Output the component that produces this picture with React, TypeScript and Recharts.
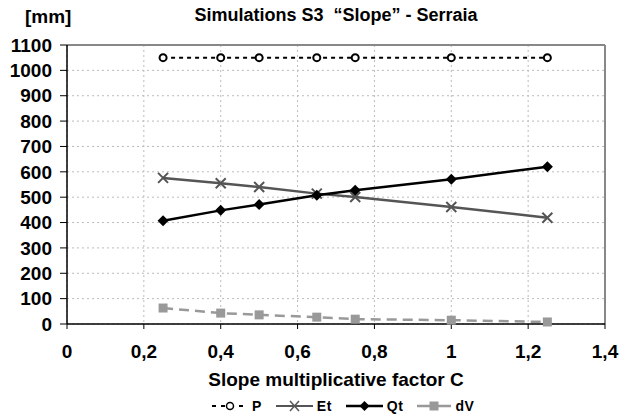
import React from 'react';
import { LineChart, Line, XAxis, YAxis, CartesianGrid, ReferenceLine } from 'recharts';

const slopeFactors = [0.25, 0.4, 0.5, 0.65, 0.75, 1, 1.25];
const pValues = [1050, 1050, 1050, 1050, 1050, 1050, 1050];
const etValues = [576, 555, 540, 514, 501, 461, 419];
const qtValues = [407, 448, 471, 508, 527, 571, 620];
const dvValues = [63, 43, 36, 27, 19, 15, 8];

const xTicks = [0, 0.2, 0.4, 0.6, 0.8, 1, 1.2, 1.4];
const yTicks = [0, 100, 200, 300, 400, 500, 600, 700, 800, 900, 1000, 1100];

const data = slopeFactors.map((c, i) => ({
    c,
    P: pValues[i],
    Et: etValues[i],
    Qt: qtValues[i],
    dV: dvValues[i],
}));

const FONT = '"Liberation Sans", Arial, sans-serif';

const circleDot = (props: any) => (
    <circle key={`p-${props.index}`} cx={props.cx} cy={props.cy} r={3.5} fill="#fff" stroke="#000" strokeWidth={2} />
);

const crossDot = (props: any) => {
    const { cx, cy, index } = props;
    const s = 5;
    return (
        <path
            key={`et-${index}`}
            d={`M${cx - s},${cy - s}L${cx + s},${cy + s}M${cx - s},${cy + s}L${cx + s},${cy - s}`}
            stroke="#555"
            strokeWidth={2}
            fill="none"
        />
    );
};

const diamondDot = (props: any) => {
    const { cx, cy, index } = props;
    const s = 5.5;
    return <path key={`qt-${index}`} d={`M${cx},${cy - s}L${cx + s},${cy}L${cx},${cy + s}L${cx - s},${cy}Z`} fill="#000" />;
};

const squareDot = (props: any) => {
    const { cx, cy, index } = props;
    return <rect key={`dv-${index}`} x={cx - 4.5} y={cy - 4.5} width={9} height={9} fill="#999" />;
};

const LegendItem = ({ children, label, width }: { children: React.ReactNode; label: string; width: number }) => (
    <div style={{ display: 'flex', alignItems: 'center', marginRight: 14 }}>
        <svg width={width} height={14} style={{ marginRight: 4 }}>{children}</svg>
        <span>{label}</span>
    </div>
);

export default function App() {
    return (
        <div style={{ position: 'relative', width: 625, height: 415, background: '#fff', fontFamily: FONT, fontWeight: 700, color: '#000' }}>
            <style>{'body{margin:0}'}</style>
            <div style={{ position: 'absolute', left: 25, top: 6, fontSize: 19 }}>[mm]</div>
            <div style={{ position: 'absolute', left: 67, width: 538, top: 5, fontSize: 18, textAlign: 'center', whiteSpace: 'pre' }}>
                {'Simulations S3  \u201cSlope\u201d - Serraia'}
            </div>
            <LineChart width={625} height={415} data={data} margin={{ top: 45, right: 20, left: 0, bottom: 51 }}>
                <CartesianGrid stroke="#bbb" strokeDasharray="2 3" />
                <XAxis
                    type="number"
                    dataKey="c"
                    domain={[0, 1.4]}
                    ticks={xTicks}
                    interval={0}
                    height={40}
                    tickFormatter={(v: number) => String(v).replace('.', ',')}
                    tick={{ fill: '#000', fontSize: 19, fontWeight: 700, fontFamily: FONT }}
                    tickSize={5}
                    tickMargin={16}
                    axisLine={{ stroke: '#000', strokeWidth: 1.5 }}
                    tickLine={{ stroke: '#000' }}
                />
                <YAxis
                    type="number"
                    domain={[0, 1100]}
                    ticks={yTicks}
                    interval={0}
                    width={67}
                    tick={{ fill: '#000', fontSize: 19, fontWeight: 700, fontFamily: FONT }}
                    tickSize={7}
                    tickMargin={8}
                    axisLine={{ stroke: '#000', strokeWidth: 1.5 }}
                    tickLine={{ stroke: '#000' }}
                />
                <ReferenceLine y={1100} stroke="#888" strokeWidth={2} />
                <ReferenceLine x={1.4} stroke="#888" strokeWidth={2} />
                <Line dataKey="P" stroke="#000" strokeWidth={2} strokeDasharray="4 4" dot={circleDot} isAnimationActive={false} />
                <Line dataKey="Et" stroke="#555" strokeWidth={2.5} dot={crossDot} isAnimationActive={false} />
                <Line dataKey="Qt" stroke="#000" strokeWidth={2.5} dot={diamondDot} isAnimationActive={false} />
                <Line dataKey="dV" stroke="#999" strokeWidth={2.5} strokeDasharray="10 6" dot={squareDot} isAnimationActive={false} />
            </LineChart>
            <div style={{ position: 'absolute', left: 67, width: 538, top: 369, fontSize: 19, textAlign: 'center' }}>
                Slope multiplicative factor C
            </div>
            <div style={{ position: 'absolute', left: 212, top: 398, display: 'flex', fontSize: 14, letterSpacing: 0.5 }}>
                <LegendItem label="P" width={36}>
                    <line x1={0} y1={7} x2={36} y2={7} stroke="#000" strokeWidth={2} strokeDasharray="4 5" />
                    <circle cx={18} cy={7} r={3.5} fill="#fff" stroke="#000" strokeWidth={1.5} />
                </LegendItem>
                <LegendItem label="Et" width={37}>
                    <line x1={0} y1={7} x2={37} y2={7} stroke="#555" strokeWidth={2} />
                    <path d="M14,2L23,12M14,12L23,2" stroke="#555" strokeWidth={1.5} fill="none" />
                </LegendItem>
                <LegendItem label="Qt" width={37}>
                    <line x1={0} y1={7} x2={37} y2={7} stroke="#000" strokeWidth={2.5} />
                    <path d="M18.5,2L23.5,7L18.5,12L13.5,7Z" fill="#000" />
                </LegendItem>
                <LegendItem label="dV" width={34}>
                    <line x1={0} y1={7} x2={34} y2={7} stroke="#999" strokeWidth={2.5} />
                    <rect x={12.5} y={2.5} width={9} height={9} fill="#999" />
                </LegendItem>
            </div>
        </div>
    );
}
